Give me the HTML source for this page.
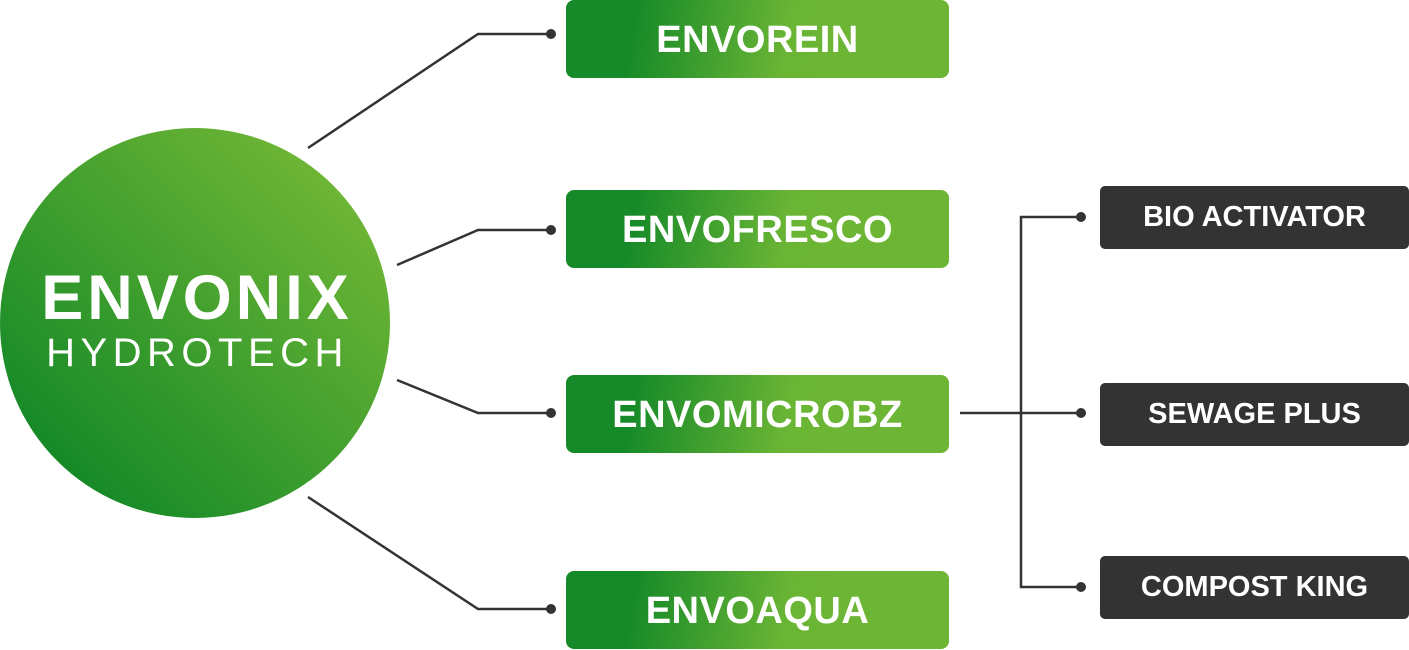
<!DOCTYPE html>
<html><head><meta charset="utf-8"><style>
body{margin:0;width:1409px;height:650px;background:#fff;position:relative;overflow:hidden;font-family:"Liberation Sans",sans-serif}
.g{position:absolute;left:566px;width:383px;height:78px;border-radius:8px;background:linear-gradient(100deg,#168a28 0%,#168a28 18%,#6bb535 58%,#6db535 100%);color:#fff;font-size:38px;font-weight:bold;display:flex;align-items:center;justify-content:center;letter-spacing:0.5px;padding-top:2px;box-sizing:border-box}
.d{position:absolute;left:1100px;width:309px;height:63px;border-radius:5px;background:#333;color:#fff;font-size:29px;font-weight:bold;display:flex;align-items:center;justify-content:center}
.c{position:absolute;left:0;top:128px;width:390px;height:390px;border-radius:50%;background:linear-gradient(45deg,#168a28 15%,#6db535 85%);color:#fff;text-align:center}
</style></head><body>
<svg width="1409" height="650" style="position:absolute;left:0;top:0">
<g stroke="#333" stroke-width="2.5" fill="none">
<polyline points="308,148 478,34 551,34"/>
<polyline points="397,265 478,230 551,230"/>
<polyline points="397,380 478,413 551,413"/>
<polyline points="308,497 478,609 551,609"/>
<line x1="960" y1="413" x2="1080" y2="413"/>
<polyline points="1080,217 1021,217 1021,587 1080,587"/>
</g>
<g fill="#333">
<circle cx="551" cy="34" r="5"/><circle cx="551" cy="230" r="5"/><circle cx="551" cy="413" r="5"/><circle cx="551" cy="609" r="5"/>
<circle cx="1081" cy="217" r="5"/><circle cx="1081" cy="413" r="5"/><circle cx="1081" cy="587" r="5"/>
</g></svg>
<div class="c"><div style="position:absolute;top:134px;width:100%;font-size:63px;font-weight:bold;letter-spacing:4px;padding-left:4px;box-sizing:border-box">ENVONIX</div><div style="position:absolute;top:203px;width:100%;font-size:40px;letter-spacing:5.5px;padding-left:5px;box-sizing:border-box">HYDROTECH</div></div>
<div class="g" style="top:0">ENVOREIN</div>
<div class="g" style="top:190px">ENVOFRESCO</div>
<div class="g" style="top:375px">ENVOMICROBZ</div>
<div class="g" style="top:571px">ENVOAQUA</div>
<div class="d" style="top:186px">BIO ACTIVATOR</div>
<div class="d" style="top:383px">SEWAGE PLUS</div>
<div class="d" style="top:556px">COMPOST KING</div>
</body></html>
